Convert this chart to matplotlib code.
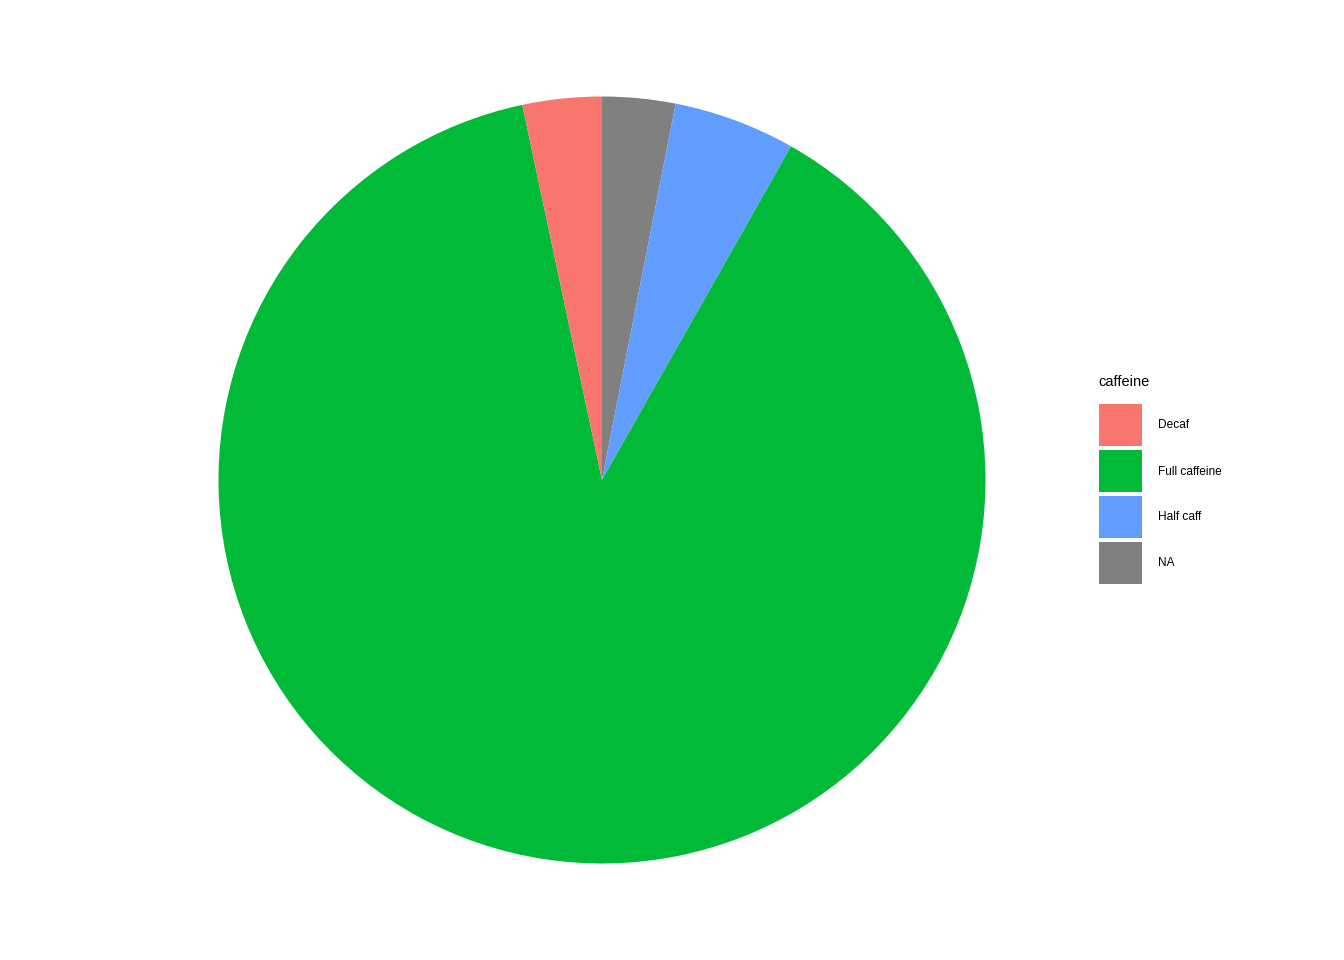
import matplotlib
matplotlib.use("Agg")
import matplotlib.pyplot as plt
from matplotlib.patches import Rectangle

plt.rcParams['font.family'] = ['Liberation Sans', 'DejaVu Sans']

categories = ["Decaf", "Full caffeine", "Half caff", "NA"]
counts = [13, 345, 20, 12]
colors = ["#F8766D", "#00BA38", "#619CFF", "#808080"]
legend_title = "caffeine"

W, H = 1344, 960
fig = plt.figure(figsize=(W / 96, H / 96), dpi=96)

cx, cy, r = 602, 480, 383.5
ax = fig.add_axes([(cx - r) / W, (H - cy - r) / H, 2 * r / W, 2 * r / H])

# draw order clockwise from 12 o'clock: NA, Half caff, Full caffeine, Decaf
order = [3, 2, 1, 0]
ax.pie([counts[i] for i in order], colors=[colors[i] for i in order],
       startangle=90, counterclock=False, radius=1,
       wedgeprops=dict(linewidth=0))
ax.set_xlim(-1, 1)
ax.set_ylim(-1, 1)
ax.set_aspect('auto')
ax.axis('off')

# legend
fig.text(1098 / W, 1 - 381.5 / H, legend_title, fontsize=11, ha='left', va='center')
for k, (lab, col) in enumerate(zip(categories, colors)):
    y0 = 404 + k * 46
    fig.patches.append(Rectangle((1099 / W, 1 - (y0 + 42) / H), 43 / W, 42 / H,
                                 transform=fig.transFigure, facecolor=col,
                                 edgecolor='none'))
    fig.text(1158 / W, 1 - (y0 + 21.5) / H, lab, fontsize=8.9, ha='left', va='center')

fig.savefig("out.png", dpi=96)
